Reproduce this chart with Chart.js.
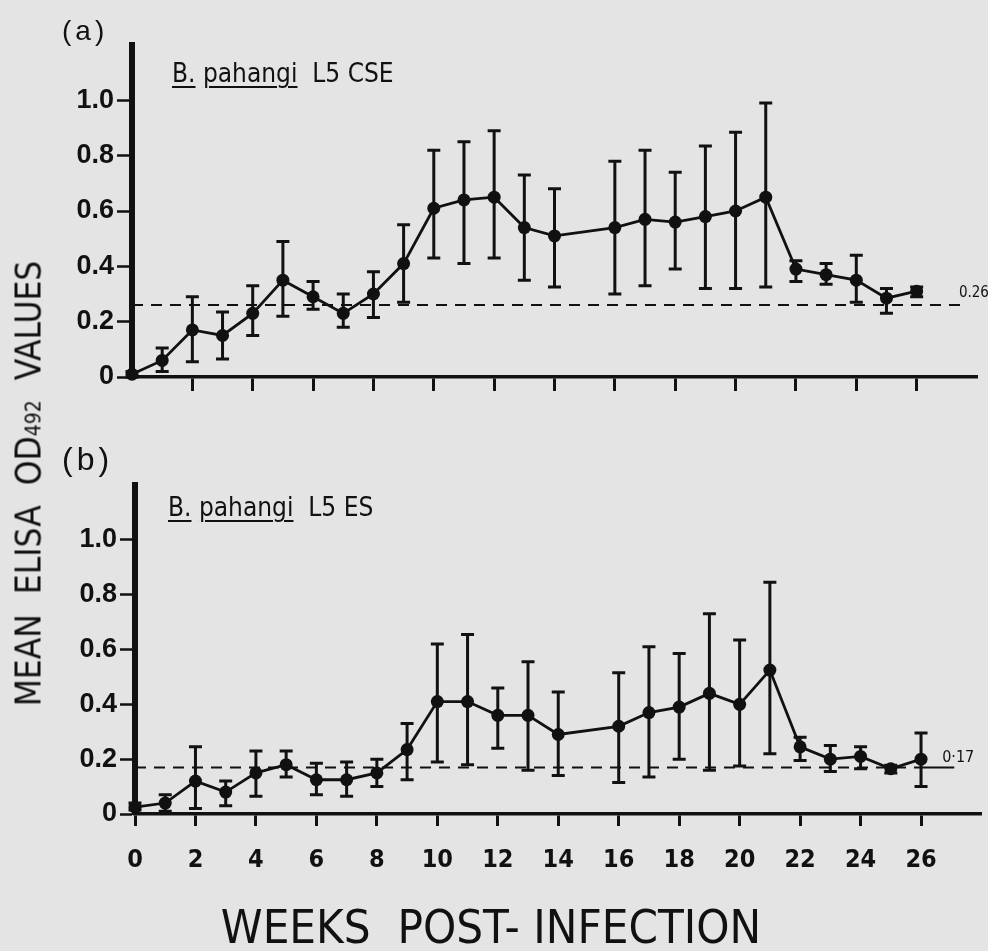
<!DOCTYPE html>
<html><head><meta charset="utf-8">
<script src="https://cdn.jsdelivr.net/npm/chart.js@4"></script>
<style>
html,body{margin:0;padding:0;background:#e4e4e4;}
#wrap{position:relative;width:988px;height:951px;overflow:hidden;background:#e4e4e4;color:#111;
  font-family:'Liberation Sans Narrow','DejaVu Sans Condensed','Arial Narrow',sans-serif;}
canvas{position:absolute;left:0;}
#ca{top:0;} #cb{top:420px;}
.t{position:absolute;white-space:pre;line-height:1;}
.u{text-decoration:underline;text-decoration-thickness:2px;text-underline-offset:4px;}
#la,#lb{font-family:'Liberation Sans',Arial,sans-serif;letter-spacing:4px;}
#la{left:62px;top:17px;font-size:28px;}
#lb{left:62px;top:443px;font-size:32px;}
#sa{left:172px;top:60px;font-size:26px;}
#sb{left:168px;top:494px;font-size:26px;}
#xt{left:141px;width:700px;text-align:center;top:903px;font-size:47px;}
#yt{left:-211px;width:480px;text-align:center;top:466px;font-size:35px;transform:rotate(-90deg);transform-origin:center;}
</style></head><body>
<div id="wrap">
<canvas id="ca" width="988" height="420"></canvas>
<canvas id="cb" width="988" height="531"></canvas>
<div class="t" id="la">(a)</div>
<div class="t" id="lb">(b)</div>
<div class="t" id="sa"><span class="u">B.</span> <span class="u">pahangi</span>  L5 CSE</div>
<div class="t" id="sb"><span class="u">B.</span> <span class="u">pahangi</span>  L5 ES</div>
<div class="t" id="xt">WEEKS  POST- INFECTION</div>
<div class="t" id="yt">MEAN  ELISA  OD<span style="font-size:0.6em">492</span>  VALUES</div>
</div>
<script>
// ---- data ----
const weeks = [0,1,2,3,4,5,6,7,8,9,10,11,12,13,14,16,17,18,19,20,21,22,23,24,25,26];

const cseMean  = [0.01,0.06,0.17,0.15,0.23,0.35,0.29,0.23,0.30,0.41,0.61,0.64,0.65,0.54,0.51,0.54,0.57,0.56,0.58,0.60,0.65,0.39,0.37,0.35,0.285,0.31];
const cseUpper = [0.02,0.105,0.29,0.235,0.33,0.49,0.345,0.30,0.38,0.55,0.82,0.85,0.89,0.73,0.68,0.78,0.82,0.74,0.835,0.885,0.99,0.42,0.41,0.44,0.32,0.325];
const cseLower = [0.0,0.02,0.055,0.065,0.15,0.22,0.245,0.18,0.215,0.27,0.43,0.41,0.43,0.35,0.325,0.30,0.33,0.39,0.32,0.32,0.325,0.345,0.335,0.27,0.23,0.29];
const cseCutoff = 0.26;

const esMean  = [0.025,0.04,0.12,0.08,0.15,0.18,0.125,0.125,0.15,0.235,0.41,0.41,0.36,0.36,0.29,0.32,0.37,0.39,0.44,0.40,0.525,0.245,0.20,0.21,0.165,0.20];
const esUpper = [0.04,0.07,0.245,0.12,0.23,0.23,0.185,0.19,0.20,0.33,0.62,0.655,0.46,0.555,0.445,0.515,0.61,0.585,0.73,0.635,0.845,0.28,0.25,0.245,0.178,0.295];
const esLower = [0.015,0.01,0.02,0.03,0.065,0.135,0.07,0.065,0.10,0.125,0.19,0.18,0.24,0.16,0.14,0.115,0.135,0.20,0.16,0.175,0.22,0.195,0.155,0.165,0.15,0.10];
const esCutoff = 0.17;

const yTickValues = [0,0.2,0.4,0.6,0.8,1.0];
const yTickLabels = ['0','0.2','0.4','0.6','0.8','1.0'];
const xTickValuesA = [2,4,6,8,10,12,14,16,18,20,22,24,26];
const xTickValuesB = [0,2,4,6,8,10,12,14,16,18,20,22,24,26];
const xTickLabelsB = ['0','2','4','6','8','10','12','14','16','18','20','22','24','26'];
const cutoffLabelA = '0.26';
const cutoffLabelB = '0·17';

// ---- styling ----
const INK = '#111';
const NARROW = "'Liberation Sans Narrow','DejaVu Sans Condensed','Arial Narrow',sans-serif";
const SANS = "'Liberation Sans',Arial,sans-serif";

function errorBarPlugin(xs, up, lo) {
  return {
    id: 'errorBars',
    afterDatasetsDraw(chart) {
      const {ctx, scales: {x, y}} = chart;
      const cap = 6.5;
      ctx.save();
      ctx.strokeStyle = INK; ctx.lineWidth = 3; ctx.lineCap = 'butt';
      xs.forEach((w, i) => {
        const px = x.getPixelForValue(w);
        const t = y.getPixelForValue(up[i]);
        const b = y.getPixelForValue(lo[i]);
        ctx.beginPath();
        ctx.moveTo(px, t); ctx.lineTo(px, b);
        ctx.moveTo(px - cap, t); ctx.lineTo(px + cap, t);
        ctx.moveTo(px - cap, b); ctx.lineTo(px + cap, b);
        ctx.stroke();
      });
      ctx.restore();
    }
  };
}

function cutoffLabelPlugin(text, xVal, yVal, dy, size) {
  return {
    id: 'cutoffLabel',
    afterDatasetsDraw(chart) {
      const {ctx, scales: {x, y}} = chart;
      ctx.save();
      ctx.fillStyle = INK;
      ctx.font = size + 'px ' + NARROW;
      ctx.textAlign = 'left'; ctx.textBaseline = 'alphabetic';
      ctx.fillText(text, x.getPixelForValue(xVal), y.getPixelForValue(yVal) + dy);
      ctx.restore();
    }
  };
}

function makeChart(id, cfg) {
  const mainData = weeks.map((w, i) => ({x: w, y: cfg.mean[i]}));
  return new Chart(document.getElementById(id), {
    type: 'line',
    data: {
      datasets: [
        {
          data: cfg.cutoffData,
          borderColor: INK, borderWidth: 2, pointRadius: 0, fill: false,
          segment: {borderDash: c => cfg.dashSeg(c.p0DataIndex) ? [11, 8] : []},
          order: 2, clip: false
        },
        {
          data: mainData,
          borderColor: INK, borderWidth: 2.8, tension: 0, fill: false,
          pointRadius: 6.5, pointBackgroundColor: INK, pointBorderWidth: 0,
          order: 1, clip: false
        }
      ]
    },
    options: {
      responsive: false, animation: false, devicePixelRatio: 1,
      layout: {padding: cfg.padding},
      plugins: {legend: {display: false}, tooltip: {enabled: false}},
      scales: {
        x: {
          type: 'linear', min: 0, max: 28,
          afterBuildTicks: s => { s.ticks = cfg.xTicks.map(v => ({value: v})); },
          afterFit: s => { s.height = cfg.xHeight; },
          border: {display: true, color: INK, width: 3.5},
          grid: {drawOnChartArea: false, drawTicks: true, tickLength: cfg.xTickLen, tickWidth: 3, tickColor: INK},
          ticks: {
            display: cfg.xLabels !== null,
            color: INK, padding: 19, maxRotation: 0, autoSkip: false,
            font: {family: NARROW, size: 25, weight: 'bold'},
            callback: (v, i) => cfg.xLabels ? cfg.xLabels[i] : ''
          }
        },
        y: {
          type: 'linear', min: 0, max: 1.2,
          afterBuildTicks: s => { s.ticks = yTickValues.map(v => ({value: v})); },
          afterFit: s => { s.width = cfg.yWidth; },
          border: {display: true, color: INK, width: 6},
          grid: {drawOnChartArea: false, drawTicks: true, tickLength: 15, tickWidth: 2.5, tickColor: INK},
          ticks: {
            color: INK, padding: 3, autoSkip: false,
            font: {family: SANS, size: 27, weight: 'bold'},
            callback: (v, i) => yTickLabels[i]
          }
        }
      }
    },
    plugins: [errorBarPlugin(weeks, cfg.upper, cfg.lower), cutoffLabelPlugin(cfg.cutText, cfg.cutX, cfg.cutoff, cfg.cutDy, cfg.cutSize)]
  });
}

makeChart('ca', {
  mean: cseMean, upper: cseUpper, lower: cseLower, cutoff: cseCutoff,
  cutoffData: [{x: 0, y: cseCutoff}, {x: 27.7, y: cseCutoff}],
  dashSeg: i => true,
  padding: {left: 0, right: 11, top: 45, bottom: 0},
  xHeight: 43, yWidth: 132, xTicks: xTickValuesA, xLabels: null, xTickLen: 14,
  cutText: cutoffLabelA, cutX: 27.4, cutDy: -8, cutSize: 15
});

makeChart('cb', {
  mean: esMean, upper: esUpper, lower: esLower, cutoff: esCutoff,
  cutoffData: [{x: 0, y: esCutoff}, {x: 26, y: esCutoff}, {x: 27.1, y: esCutoff}],
  dashSeg: i => i === 0,
  padding: {left: 0, right: 0, top: 65, bottom: 0},
  xHeight: 137, yWidth: 135, xTicks: xTickValuesB, xLabels: xTickLabelsB, xTickLen: 12,
  cutText: cutoffLabelB, cutX: 26.7, cutDy: -5, cutSize: 16
});
</script>
</body></html>
